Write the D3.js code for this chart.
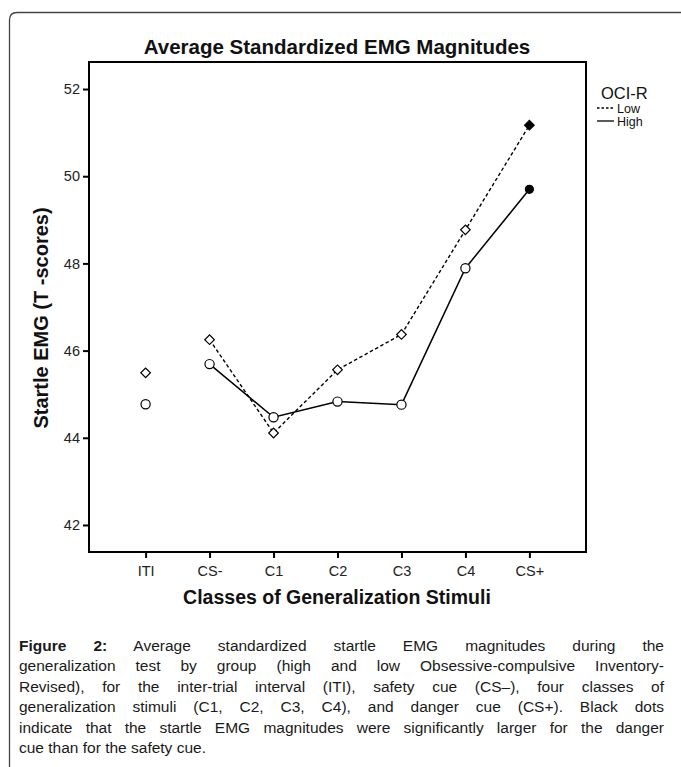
<!DOCTYPE html>
<html><head><meta charset="utf-8">
<script src="https://cdn.jsdelivr.net/npm/d3@7"></script>
<style>html,body{margin:0;padding:0;background:#fff;}svg{display:block;}</style>
</head><body>
<svg id="c" width="681" height="767"></svg>
<script>
const categories = ["ITI","CS-","C1","C2","C3","C4","CS+"];
const lowValues  = [45.49, 46.25, 44.11, 45.56, 46.37, 48.77, 51.17];
const highValues = [44.77, 45.69, 44.47, 44.83, 44.76, 47.89, 49.70];
const yTicks = [42, 44, 46, 48, 50, 52];
const significant = [false,false,false,false,false,false,true];
const seriesNames = ["Low","High"];
const titleText = "Average Standardized EMG Magnitudes";
const yLabel = "Startle EMG (T -scores)";
const xLabel = "Classes of Generalization Stimuli";
const legendTitle = "OCI-R";
const captionLines = [
  [{b:"Figure 2:"}, " Average standardized startle EMG magnitudes during the"],
  ["generalization test by group (high and low Obsessive-compulsive Inventory-"],
  ["Revised), for the inter-trial interval (ITI), safety cue (CS\u2013), four classes of"],
  ["generalization stimuli (C1, C2, C3, C4), and danger cue (CS+). Black dots"],
  ["indicate that the startle EMG magnitudes were significantly larger for the danger"],
  ["cue than for the safety cue."]
];

const svg = d3.select("#c");
const font = "Liberation Sans, Arial, Helvetica, sans-serif";
const L = 89, R = 586, T = 62, B = 552;

// outer frame
svg.append("path")
  .attr("d", `M9.5,767 L9.5,20 Q9.5,12.5 17,12.5 L681,12.5`)
  .attr("fill","none").attr("stroke","#444").attr("stroke-width",1.3);

const x = d3.scalePoint().domain(categories).range([L, R]).padding(0.885);
const y = d3.scaleLinear().domain([41.38, 52.62]).range([B, T]);

// title
svg.append("text").attr("x", 337).attr("y", 54).attr("text-anchor","middle")
  .attr("font-family", font).attr("font-weight","bold").style("font-size","20.5px")
  .attr("fill","#111").text(titleText);

// frame
svg.append("rect").attr("x",L).attr("y",T).attr("width",R-L).attr("height",B-T)
  .attr("fill","none").attr("stroke","#000").attr("stroke-width",2);

// axes
const yAxis = svg.append("g").attr("transform",`translate(${L},0)`)
  .call(d3.axisLeft(y).tickValues(yTicks).tickSize(6).tickPadding(3).tickFormat(d3.format("d")));
const xAxis = svg.append("g").attr("transform",`translate(0,${B})`)
  .call(d3.axisBottom(x).tickSize(6).tickPadding(8));
[yAxis, xAxis].forEach(g => {
  g.select(".domain").remove();
  g.selectAll(".tick line").attr("stroke","#000").attr("stroke-width",2);
  g.selectAll(".tick text").attr("font-family", font).style("font-size","14.5px").attr("fill","#222");
});

// axis labels
svg.append("text").attr("transform","translate(48,318) rotate(-90)").attr("text-anchor","middle")
  .attr("font-family", font).attr("font-weight","bold").style("font-size","20px").attr("fill","#111")
  .text(yLabel);
svg.append("text").attr("x", 337).attr("y", 604).attr("text-anchor","middle")
  .attr("font-family", font).attr("font-weight","bold").style("font-size","19.5px").attr("fill","#111")
  .text(xLabel);

// lines (ITI not connected)
const line = d3.line().x((d,i)=>x(categories[i])).y(d=>y(d)).defined((d,i)=>i>0);
svg.append("path").datum(lowValues).attr("d", line).attr("fill","none")
  .attr("stroke","#000").attr("stroke-width",1.4).attr("stroke-dasharray","3.5,2.5");
svg.append("path").datum(highValues).attr("d", line).attr("fill","none")
  .attr("stroke","#000").attr("stroke-width",1.5);

// markers
svg.append("g").selectAll("path").data(lowValues).join("path")
  .attr("transform",(d,i)=>`translate(${x(categories[i])},${y(d)}) rotate(45)`)
  .attr("d", d3.symbol().type(d3.symbolSquare).size(46))
  .attr("fill",(d,i)=>significant[i]?"#000":"#fff").attr("stroke","#000").attr("stroke-width",1.2);
svg.append("g").selectAll("circle").data(highValues).join("circle")
  .attr("cx",(d,i)=>x(categories[i])).attr("cy",d=>y(d)).attr("r",(d,i)=>significant[i]?4:4.6)
  .attr("fill",(d,i)=>significant[i]?"#000":"#fff").attr("stroke","#000").attr("stroke-width",1.2);

// legend
svg.append("text").attr("x",601).attr("y",99).attr("font-family",font).style("font-size","16.5px").attr("fill","#111").text(legendTitle);
const lg = svg.append("g");
seriesNames.forEach((n,i)=>{
  const yy = 108 + i*13;
  lg.append("line").attr("x1",597).attr("x2",614).attr("y1",yy).attr("y2",yy)
    .attr("stroke","#000").attr("stroke-width",1.3).attr("stroke-dasharray", i===0?"2.5,2":null);
  lg.append("text").attr("x",617).attr("y",yy+4.5).attr("font-family",font).style("font-size","12.5px").attr("fill","#111").text(n);
});

// caption, justified
const capLeft = 19, capRight = 664, capTop = 651, capStep = 20.4, capSize = 15.5;
captionLines.forEach((parts, li) => {
  const t = svg.append("text").attr("x",capLeft).attr("y",capTop + li*capStep)
    .attr("font-family",font).style("font-size",capSize+"px").attr("fill","#1a1a1a");
  parts.forEach(p => {
    if (typeof p === "string") t.append("tspan").text(p);
    else t.append("tspan").attr("font-weight","bold").text(p.b);
  });
  if (li < captionLines.length - 1) {
    const full = parts.map(p => typeof p === "string" ? p : p.b).join("");
    const spaces = (full.match(/ /g)||[]).length;
    const w = t.node().getComputedTextLength();
    const extra = (capRight - capLeft - w) / spaces;
    t.attr("word-spacing", extra);
  }
});
</script>
</body></html>
